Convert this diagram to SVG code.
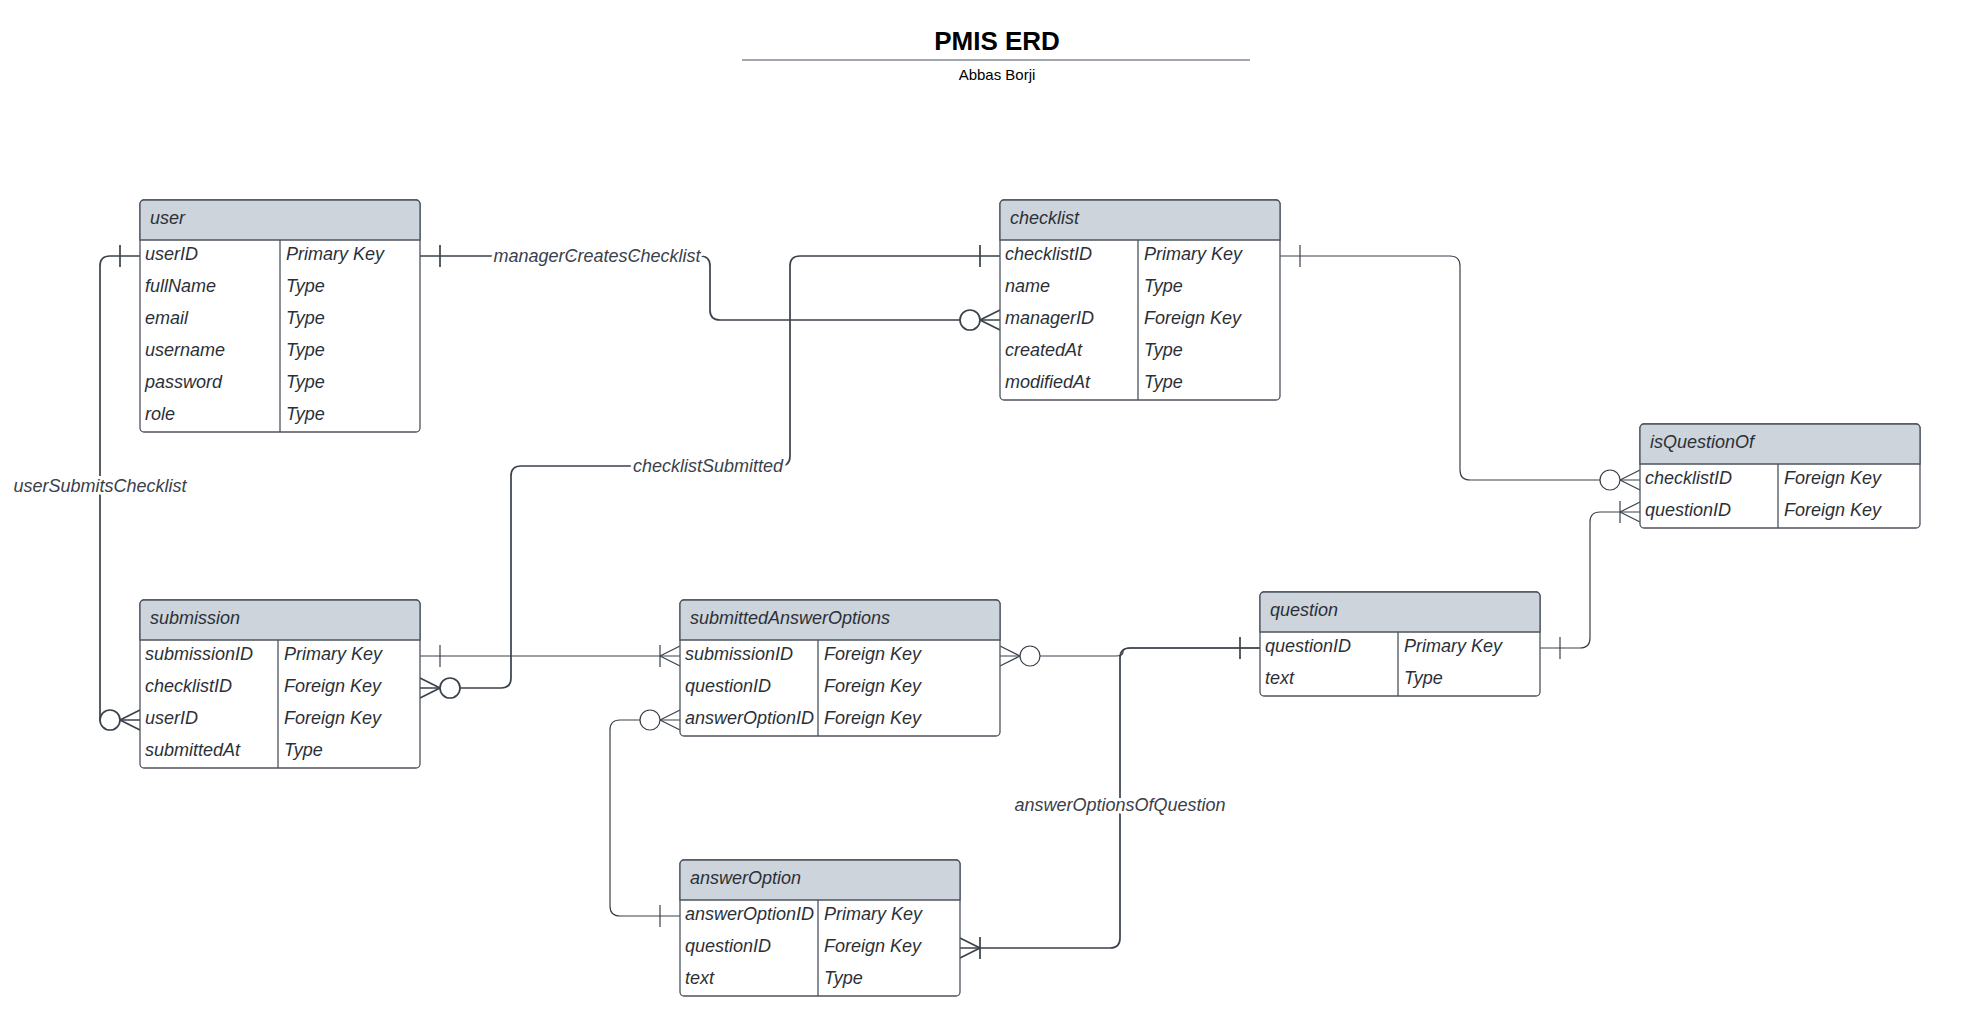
<svg xmlns="http://www.w3.org/2000/svg" width="1988" height="1036" viewBox="0 0 1988 1036">
<style>
text { font-family: "Liberation Sans", Arial, sans-serif; fill: #2b3038; }
.t { font-size: 18px; font-style: italic; }
.box { fill: #ffffff; stroke: #4d545e; stroke-width: 1.3; }
.hdr { fill: #ced4db; stroke: #4d545e; stroke-width: 1.3; }
.dv { stroke: #4d545e; stroke-width: 1.3; }
.c { fill: none; stroke: #3a414a; stroke-width: 1.7; }
.thin { stroke-width: 1.2; }
.lbl { font-size: 18px; font-style: italic; fill: #3a414a; text-anchor: middle; stroke: #ffffff; stroke-width: 6; paint-order: stroke; stroke-linejoin: round; }
.title { font-size: 26px; font-weight: bold; text-anchor: middle; fill: #000; }
.sub { font-size: 15px; text-anchor: middle; fill: #000; }
</style>
<defs>
<g id="one"><line x1="-20" y1="-11" x2="-20" y2="11"/></g>
<g id="zm"><path d="M-20,0 L0,-10 M-20,0 L0,10"/><circle cx="-30" cy="0" r="10" fill="#ffffff"/></g>
<g id="om"><path d="M-20,0 L0,-10 M-20,0 L0,10 M-20,-11 V11"/></g>
</defs>
<rect width="1988" height="1036" fill="#ffffff"/>

<g id="title">
<text class="title" x="997" y="50">PMIS ERD</text>
<line x1="742" y1="60" x2="1250" y2="60" stroke="#a3a8b0" stroke-width="2"/>
<text class="sub" x="997" y="80">Abbas Borji</text>
</g>

<g id="connectors">
<g id="managerCreatesChecklist" class="c">
<path d="M420,256 H700 Q710,256 710,266 V310 Q710,320 720,320 H1000"/>
<use href="#one" transform="translate(420,256) scale(-1,1)"/>
<use href="#zm" transform="translate(1000,320)"/>
<text class="lbl" x="597" y="262">managerCreatesChecklist</text>
</g>
<g id="checklistSubmitted" class="c">
<path d="M1000,256 H800 Q790,256 790,266 V456 Q790,466 780,466 H521 Q511,466 511,476 V678 Q511,688 501,688 H420"/>
<use href="#one" transform="translate(1000,256)"/>
<use href="#zm" transform="translate(420,688) scale(-1,1)"/>
<text class="lbl" x="708" y="472">checklistSubmitted</text>
</g>
<g id="userSubmitsChecklist" class="c">
<path d="M140,256 H110 Q100,256 100,266 V720 H140"/>
<use href="#one" transform="translate(140,256)"/>
<use href="#zm" transform="translate(140,720)"/>
<text class="lbl" x="100" y="492">userSubmitsChecklist</text>
</g>
<g id="checklistQuestions" class="c thin">
<path d="M1280,256 H1450 Q1460,256 1460,266 V470 Q1460,480 1470,480 H1640"/>
<use href="#one" transform="translate(1280,256) scale(-1,1)"/>
<use href="#zm" transform="translate(1640,480)"/>
</g>
<g id="questionChecklists" class="c thin">
<path d="M1540,648 H1580 Q1590,648 1590,638 V522 Q1590,512 1600,512 H1640"/>
<use href="#one" transform="translate(1540,648) scale(-1,1)"/>
<use href="#om" transform="translate(1640,512)"/>
</g>
<g id="submissionAnswers" class="c thin">
<path d="M420,656 H680"/>
<use href="#one" transform="translate(420,656) scale(-1,1)"/>
<use href="#om" transform="translate(680,656)"/>
</g>
<g id="answerOptionSubmitted" class="c thin">
<path d="M680,720 H620 Q610,720 610,730 V906 Q610,916 620,916 H680"/>
<use href="#zm" transform="translate(680,720)"/>
<use href="#one" transform="translate(680,916)"/>
</g>
<g id="questionSubmitted" class="c thin">
<path d="M1000,656 H1116 Q1123,656 1123,652 Q1123,648 1130,648 H1260"/>
<use href="#zm" transform="translate(1000,656) scale(-1,1)"/>
</g>
<g id="answerOptionsOfQuestion" class="c">
<path d="M1260,648 H1130 Q1120,648 1120,658 V938 Q1120,948 1110,948 H960"/>
<use href="#one" transform="translate(1260,648)"/>
<use href="#om" transform="translate(960,948) scale(-1,1)"/>
<text class="lbl" x="1120" y="811">answerOptionsOfQuestion</text>
</g>
</g>

<g id="user" transform="translate(140,200)">
<rect class="box" width="280" height="232" rx="4"/>
<path class="hdr" d="M0,40 V4 A4,4 0 0 1 4,0 H276 A4,4 0 0 1 280,4 V40 Z"/>
<line class="dv" x1="140" y1="40" x2="140" y2="232"/>
<text class="t" x="10" y="24">user</text>
<text class="t" x="5" y="60">userID</text><text class="t" x="146" y="60">Primary Key</text>
<text class="t" x="5" y="92">fullName</text><text class="t" x="146" y="92">Type</text>
<text class="t" x="5" y="124">email</text><text class="t" x="146" y="124">Type</text>
<text class="t" x="5" y="156">username</text><text class="t" x="146" y="156">Type</text>
<text class="t" x="5" y="188">password</text><text class="t" x="146" y="188">Type</text>
<text class="t" x="5" y="220">role</text><text class="t" x="146" y="220">Type</text>
</g>

<g id="checklist" transform="translate(1000,200)">
<rect class="box" width="280" height="200" rx="4"/>
<path class="hdr" d="M0,40 V4 A4,4 0 0 1 4,0 H276 A4,4 0 0 1 280,4 V40 Z"/>
<line class="dv" x1="138" y1="40" x2="138" y2="200"/>
<text class="t" x="10" y="24">checklist</text>
<text class="t" x="5" y="60">checklistID</text><text class="t" x="144" y="60">Primary Key</text>
<text class="t" x="5" y="92">name</text><text class="t" x="144" y="92">Type</text>
<text class="t" x="5" y="124">managerID</text><text class="t" x="144" y="124">Foreign Key</text>
<text class="t" x="5" y="156">createdAt</text><text class="t" x="144" y="156">Type</text>
<text class="t" x="5" y="188">modifiedAt</text><text class="t" x="144" y="188">Type</text>
</g>

<g id="isQuestionOf" transform="translate(1640,424)">
<rect class="box" width="280" height="104" rx="4"/>
<path class="hdr" d="M0,40 V4 A4,4 0 0 1 4,0 H276 A4,4 0 0 1 280,4 V40 Z"/>
<line class="dv" x1="138" y1="40" x2="138" y2="104"/>
<text class="t" x="10" y="24">isQuestionOf</text>
<text class="t" x="5" y="60">checklistID</text><text class="t" x="144" y="60">Foreign Key</text>
<text class="t" x="5" y="92">questionID</text><text class="t" x="144" y="92">Foreign Key</text>
</g>

<g id="submission" transform="translate(140,600)">
<rect class="box" width="280" height="168" rx="4"/>
<path class="hdr" d="M0,40 V4 A4,4 0 0 1 4,0 H276 A4,4 0 0 1 280,4 V40 Z"/>
<line class="dv" x1="138" y1="40" x2="138" y2="168"/>
<text class="t" x="10" y="24">submission</text>
<text class="t" x="5" y="60">submissionID</text><text class="t" x="144" y="60">Primary Key</text>
<text class="t" x="5" y="92">checklistID</text><text class="t" x="144" y="92">Foreign Key</text>
<text class="t" x="5" y="124">userID</text><text class="t" x="144" y="124">Foreign Key</text>
<text class="t" x="5" y="156">submittedAt</text><text class="t" x="144" y="156">Type</text>
</g>

<g id="submittedAnswerOptions" transform="translate(680,600)">
<rect class="box" width="320" height="136" rx="4"/>
<path class="hdr" d="M0,40 V4 A4,4 0 0 1 4,0 H316 A4,4 0 0 1 320,4 V40 Z"/>
<line class="dv" x1="138" y1="40" x2="138" y2="136"/>
<text class="t" x="10" y="24">submittedAnswerOptions</text>
<text class="t" x="5" y="60">submissionID</text><text class="t" x="144" y="60">Foreign Key</text>
<text class="t" x="5" y="92">questionID</text><text class="t" x="144" y="92">Foreign Key</text>
<text class="t" x="5" y="124">answerOptionID</text><text class="t" x="144" y="124">Foreign Key</text>
</g>

<g id="question" transform="translate(1260,592)">
<rect class="box" width="280" height="104" rx="4"/>
<path class="hdr" d="M0,40 V4 A4,4 0 0 1 4,0 H276 A4,4 0 0 1 280,4 V40 Z"/>
<line class="dv" x1="138" y1="40" x2="138" y2="104"/>
<text class="t" x="10" y="24">question</text>
<text class="t" x="5" y="60">questionID</text><text class="t" x="144" y="60">Primary Key</text>
<text class="t" x="5" y="92">text</text><text class="t" x="144" y="92">Type</text>
</g>

<g id="answerOption" transform="translate(680,860)">
<rect class="box" width="280" height="136" rx="4"/>
<path class="hdr" d="M0,40 V4 A4,4 0 0 1 4,0 H276 A4,4 0 0 1 280,4 V40 Z"/>
<line class="dv" x1="138" y1="40" x2="138" y2="136"/>
<text class="t" x="10" y="24">answerOption</text>
<text class="t" x="5" y="60">answerOptionID</text><text class="t" x="144" y="60">Primary Key</text>
<text class="t" x="5" y="92">questionID</text><text class="t" x="144" y="92">Foreign Key</text>
<text class="t" x="5" y="124">text</text><text class="t" x="144" y="124">Type</text>
</g>
</svg>
